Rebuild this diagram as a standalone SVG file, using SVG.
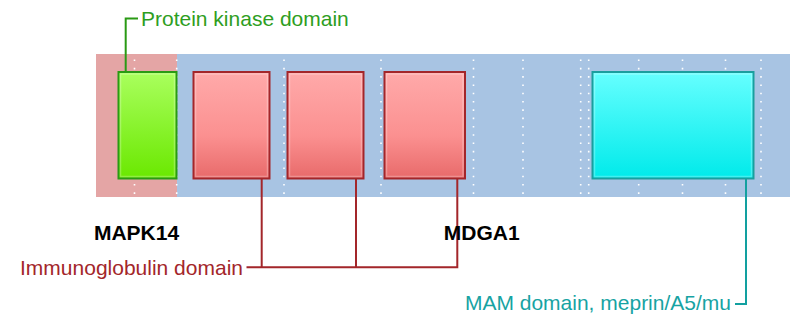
<svg xmlns="http://www.w3.org/2000/svg" width="798" height="327" viewBox="0 0 798 327">
<defs>
<linearGradient id="gG" x1="0" y1="0" x2="0" y2="1"><stop offset="0" stop-color="#aaff5e"/><stop offset="1" stop-color="#6ae800"/></linearGradient>
<linearGradient id="gR" x1="0" y1="0" x2="0" y2="1"><stop offset="0" stop-color="#ffaaaa"/><stop offset="0.6" stop-color="#fb9090"/><stop offset="1" stop-color="#e86a6a"/></linearGradient>
<linearGradient id="gC" x1="0" y1="0" x2="0" y2="1"><stop offset="0" stop-color="#66ffff"/><stop offset="1" stop-color="#00eaea"/></linearGradient>
<style>
.grid{stroke:#ffffff;stroke-width:1.6;stroke-dasharray:1.6 6.7;fill:none}
.box{stroke-width:2}
.bevel{fill:none;stroke:#ffffff;stroke-opacity:0.25;stroke-width:1.5}
.lbl{font-family:"Liberation Sans",Arial,sans-serif;font-size:21px}
.gene{font-family:"Liberation Sans",Arial,sans-serif;font-size:21px;font-weight:bold;fill:#000}
.con{fill:none;stroke-width:2}
</style>
</defs>
<g id="tracks">
<rect x="96" y="54" width="81" height="143" fill="#e4a5a5"/>
<rect x="177" y="54" width="613" height="143" fill="#a8c4e3"/>
</g>
<g id="grid">
<line class="grid" x1="134.5" y1="59.5" x2="134.5" y2="196"/>
<line class="grid" x1="176.7" y1="59.5" x2="176.7" y2="196"/>
<line class="grid" x1="284" y1="59.5" x2="284" y2="196"/>
<line class="grid" x1="381" y1="59.5" x2="381" y2="196"/>
<line class="grid" x1="473.5" y1="59.5" x2="473.5" y2="196"/>
<line class="grid" x1="523" y1="59.5" x2="523" y2="196"/>
<line class="grid" x1="580.7" y1="59.5" x2="580.7" y2="196"/>
<line class="grid" x1="588.7" y1="59.5" x2="588.7" y2="196"/>
<line class="grid" x1="638.7" y1="59.5" x2="638.7" y2="196"/>
<line class="grid" x1="682.5" y1="59.5" x2="682.5" y2="196"/>
<line class="grid" x1="725.5" y1="59.5" x2="725.5" y2="196"/>
<line class="grid" x1="761" y1="59.5" x2="761" y2="196"/>
</g>
<g id="connectors">
<polyline class="con" stroke="#2a9a14" points="125.7,72 125.7,18.5 138,18.5"/>
<polyline class="con" stroke="#a3262a" points="246.5,267.3 457.3,267.3 457.3,178"/>
<line class="con" stroke="#a3262a" x1="261.7" y1="178" x2="261.7" y2="267.3"/>
<line class="con" stroke="#a3262a" x1="356" y1="178" x2="356" y2="267.3"/>
<polyline class="con" stroke="#12a0a0" points="746,178 746,304 735,304"/>
</g>
<g id="protein-kinase">
<rect class="box" x="118.5" y="72" width="58" height="106.5" fill="url(#gG)" stroke="#2a9a14"/>
<rect class="bevel" x="120.5" y="74" width="54" height="102.5"/>
</g>
<g id="ig1">
<rect class="box" x="193.5" y="72" width="76" height="106.5" fill="url(#gR)" stroke="#a3262a"/>
<rect class="bevel" x="195.5" y="74" width="72" height="102.5"/>
</g>
<g id="ig2">
<rect class="box" x="287.5" y="72" width="76" height="106.5" fill="url(#gR)" stroke="#a3262a"/>
<rect class="bevel" x="289.5" y="74" width="72" height="102.5"/>
</g>
<g id="ig3">
<rect class="box" x="384.5" y="72" width="80.5" height="106.5" fill="url(#gR)" stroke="#a3262a"/>
<rect class="bevel" x="386.5" y="74" width="76.5" height="102.5"/>
</g>
<g id="mam">
<rect class="box" x="592.5" y="72" width="161" height="106.5" fill="url(#gC)" stroke="#1a9e9e"/>
<rect class="bevel" x="594.5" y="74" width="157" height="102.5"/>
</g>
<g id="labels">
<text class="lbl" x="141" y="26" fill="#2e9e1e">Protein kinase domain</text>
<text class="lbl" x="243" y="275" fill="#a3262a" text-anchor="end">Immunoglobulin domain</text>
<text class="lbl" x="731" y="310" fill="#17a3a3" text-anchor="end">MAM domain, meprin/A5/mu</text>
<text class="gene" x="136.5" y="240" text-anchor="middle">MAPK14</text>
<text class="gene" x="481.7" y="240" text-anchor="middle">MDGA1</text>
</g>
</svg>
